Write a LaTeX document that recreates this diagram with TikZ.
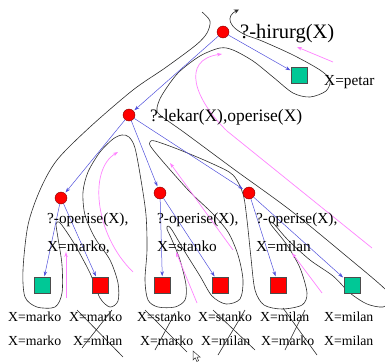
\documentclass[tikz,border=0pt]{standalone}
\usepackage{fontspec}
\setmainfont{Liberation Serif}
\usetikzlibrary{arrows.meta}
\definecolor{gsq}{RGB}{0,200,150}
\definecolor{barr}{RGB}{80,80,220}
\definecolor{pk}{RGB}{255,130,255}
\definecolor{tr}{RGB}{45,45,45}
\tikzset{
 rc/.style={circle,fill=red,draw=red!50!black,line width=0.4pt,minimum size=12pt,inner sep=0pt},
 gs/.style={rectangle,fill=gsq,draw=black!70,line width=0.5pt,minimum size=16pt,inner sep=0pt},
 rs/.style={gs,fill=red},
 ba/.style={draw=barr,line width=0.5pt,-{Stealth[length=5pt,width=3.5pt]},shorten >=1pt},
 pa/.style={draw=pk,line width=0.7pt,-{Stealth[length=5pt,width=3.5pt]}},
 trace/.style={draw=tr,line width=0.6pt},
 lbl/.style={anchor=base west,inner sep=0pt,text=black},
 xl/.style={draw=black!85,line width=0.6pt},
 big/.style={font=\fontsize{20.5}{24}\selectfont},
 mid/.style={font=\fontsize{17.5}{20}\selectfont},
 op/.style={font=\fontsize{15.3}{18}\selectfont},
 small/.style={font=\fontsize{13.8}{16}\selectfont},
}
\begin{document}
\begin{tikzpicture}[x=1pt,y=-1pt]
\useasboundingbox (0,0) rectangle (385,361);
\clip (0,0) rectangle (385,361);
% trace curve
\draw[trace] plot[smooth,tension=0.5] coordinates {
(202,12) (210,21) (207,33) (196,45) (165,68) (133,90) (90,127) (57,160) (40,190) (28,225) (23,270) (25,297) (37,307) (55,307) (62,293) (62,265) (58,238) (56,224) (59,222) (64,228) (75,245) (90,273) (100,298) (110,307) (118,301) (118,283) (110,260) (95,238) (85,215) (83,192) (88,172) (100,152) (113,139) (122,135) (129,137) (135,148) (141,180) (146,215) (147,250) (145,280) (148,300) (158,307) (175,307) (185,300) (186,285) (180,260) (172,240) (167,229) (168,226) (172,230) (185,252) (200,276) (212,296) (226,304) (240,299) (243,280) (238,255) (228,232) (212,213) (190,192) (165,164) (151,147) (150,142) (155,141) (180,150) (213,164) (233,175) (243,194) (247,220) (251,258) (255,290) (264,305) (282,309) (302,305) (307,293) (300,268) (287,245) (272,226) (270,222) (274,224) (288,240) (310,260) (333,276) (350,293) (367,304) (383,307) (390,300) (385,289) (345,255) (290,210) (235,170) (185,133) (160,115) (157,108) (162,95) (178,73) (200,56) (220,48) (233,50) (253,61) (273,77) (293,93) (310,97) (326,91) (330,80) (320,70) (293,55) (262,41) (248,36)};
\coordinate (tend) at (239,9.5);
\draw[trace,-{Stealth[length=5pt,width=4.5pt]}] (248,36) .. controls (227,27) and (226,16) .. (tend);
% pink arrows
\draw[pa] (333,62) -- (297,47);
\draw[pa] (372,248) -- (227,131) .. controls (195,100) and (180,60) .. (222,54);
\draw[pa] (133,272) .. controls (95,235) and (88,170) .. (118,152);
\draw[pa] (66,298) -- (66,252);
\draw[pa] (197,303) -- (176,252);
\draw[pa] (233,250) -- (170,163);
\draw[pa] (322,293) -- (292,253);
% nodes
\node[rc] (r) at (223,32) {};
\node[rc] (l) at (129,115) {};
\node[rc] (m) at (61,198) {};
\node[rc] (s) at (160,193) {};
\node[rc] (n) at (249,193) {};
\node[gs] (p) at (299.5,75.5) {};
\node[gs] (q1) at (42.5,285.5) {};
\node[rs] (q2) at (100,285.5) {};
\node[rs] (q3) at (162.5,285.5) {};
\node[rs] (q4) at (220.5,285.5) {};
\node[rs] (q5) at (278.5,285.5) {};
\node[gs] (q6) at (352,285.5) {};
% blue arrows
\draw[ba] (r) -- (p);
\draw[ba] (r) -- (l);
\draw[ba] (l) -- (m);
\draw[ba] (l) -- (s);
\draw[ba] (l) -- (n);
\draw[ba] (m) -- (q1);
\draw[ba] (m) -- (q2);
\draw[ba] (s) -- (q3);
\draw[ba] (s) -- (q4);
\draw[ba] (n) -- (q5);
\draw[ba] (n) -- (q6);
% texts
\node[lbl,big] (t0) at (240,39) {?-hirurg(X)};
\node[lbl,op] (t1) at (324,85) {X=petar};
\node[lbl,mid] (t2) at (150,121) {?-lekar(X),operise(X)};
\node[lbl,op] (o1) at (47,223) {?-operise(X),};
\node[lbl,op] (o2) at (157,223) {?-operise(X),};
\node[lbl,op] (o3) at (256,223) {?-operise(X),};
\node[lbl,op] (x1) at (47,251) {X=marko,};
\node[lbl,op] (x2) at (157,251) {X=stanko};
\node[lbl,op] (x3) at (256,251) {X=milan};
\node[lbl,small] (a1) at (8,321) {X=marko};
\node[lbl,small] (a2) at (69,321) {X=marko};
\node[lbl,small] (a3) at (137,321) {X=stanko};
\node[lbl,small] (a4) at (198,321) {X=stanko};
\node[lbl,small] (a5) at (260,321) {X=milan};
\node[lbl,small] (a6) at (324,321) {X=milan};
\node[lbl,small] (b1) at (8,345) {X=marko};
\node[lbl,small] (b2) at (73,345) {X=milan};
\node[lbl,small] (b3) at (140,345) {X=marko};
\node[lbl,small] (b4) at (201,345) {X=milan};
\node[lbl,small] (b5) at (261,345) {X=marko};
\node[lbl,small] (b6) at (324,345) {X=milan};
% crosses
\draw[xl] (77,310) -- (123,357);
\draw[xl] (112,310) -- (82,348);
\draw[xl] (145,310) -- (187,352);
\draw[xl] (175,313) -- (155,350);
\draw[xl] (213,310) -- (255,350);
\draw[xl] (245,310) -- (218,355);
\draw[xl] (283,308) -- (317,355);
\draw[xl] (305,310) -- (285,350);
% cursor
\draw[black!80,line width=0.5pt,fill=white] (193,351) -- (193,360) -- (195.3,357.8) -- (196.8,361.5) -- (198.6,360.7) -- (197.1,357.2) -- (200.2,357.2) -- cycle;
\end{tikzpicture}
\end{document}
